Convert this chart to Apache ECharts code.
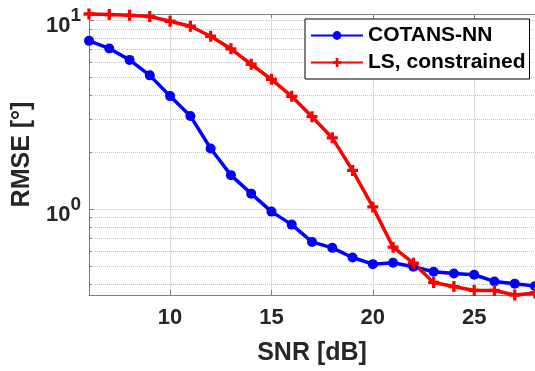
<!DOCTYPE html>
<html>
<head>
<meta charset="utf-8">
<script src="https://cdn.jsdelivr.net/npm/echarts@6/dist/echarts.min.js"></script>
<style>
  html, body { margin: 0; padding: 0; background: #fff; }
  #chart { width: 535px; height: 371px; }
</style>
</head>
<body>
<div id="chart"></div>
<script>
const FONT = '"Liberation Sans", Arial, Helvetica, sans-serif';

// SNR values in dB
const snr = [6, 7, 8, 9, 10, 11, 12, 13, 14, 15, 16, 17, 18, 19, 20, 21, 22, 23, 24, 25, 26, 27, 28];
// RMSE in degrees
const cotansNN = [7.77, 7.08, 6.16, 5.10, 3.96, 3.11, 2.09, 1.51, 1.205, 0.968, 0.826, 0.669, 0.622,
  0.553, 0.510, 0.519, 0.494, 0.465, 0.455, 0.448, 0.413, 0.402, 0.390];
const lsConstrained = [10.78, 10.70, 10.61, 10.45, 9.87, 9.29, 8.22, 7.05, 5.84, 4.86, 3.95, 3.08, 2.38,
  1.60, 1.025, 0.627, 0.516, 0.408, 0.388, 0.370, 0.370, 0.350, 0.359];

const xMin = 6, xMax = 28;
const yMin = 0.35, yMax = 10.78;
const minorY = [0.4, 0.5, 0.6, 0.7, 0.8, 0.9, 2, 3, 4, 5, 6, 7, 8, 9];

const axisColor = '#7f7f7f';
const textColor = '#262626';

const pairs = (ys) => snr.map((x, i) => [x, ys[i]]);

// minor grid (dotted) + small minor ticks on the left edge
const minorLines = minorY.map(v => ({ yAxis: v }));
const minorTicks = minorY.map(v => [
  { coord: [xMin, v], lineStyle: { type: 'solid', color: axisColor, width: 1 } },
  { coord: [xMin + 0.15, v] }
]);

const chart = echarts.init(document.getElementById('chart'));
chart.setOption({
  animation: false,
  backgroundColor: '#fff',
  grid: { left: 89, top: 14, width: 449, height: 282 },
  legend: {
    left: 305, top: 19, orient: 'vertical',
    padding: [6, 4, 6, 5], itemGap: 6, itemWidth: 52, itemHeight: 11,
    borderColor: '#000', borderWidth: 1, backgroundColor: '#fff', borderRadius: 0,
    textStyle: { fontSize: 21, fontWeight: 'bold', color: '#000', fontFamily: FONT, lineHeight: 21 },
    data: ['COTANS-NN', 'LS, constrained']
  },
  xAxis: [{
    type: 'value', min: xMin, max: xMax,
    name: 'SNR [dB]', nameLocation: 'middle', nameGap: 46,
    nameTextStyle: { fontSize: 25, fontWeight: 'bold', color: textColor, fontFamily: FONT },
    axisLine: { show: true, lineStyle: { color: axisColor, width: 1 } },
    axisTick: { show: true, inside: true, length: 5, lineStyle: { color: axisColor } },
    axisLabel: {
      margin: 12, fontSize: 22, fontWeight: 'bold', color: textColor, fontFamily: FONT,
      showMinLabel: false, showMaxLabel: false,
      formatter: v => (v % 5 === 0 ? String(v) : '')
    },
    splitLine: { show: true, lineStyle: { color: '#dcdcdc', width: 1 } }
  }, {
    type: 'value', min: xMin, max: xMax, position: 'top',
    axisLine: { show: true, lineStyle: { color: axisColor, width: 1 } },
    axisTick: { show: true, inside: true, length: 4, lineStyle: { color: axisColor } },
    axisLabel: { show: false },
    splitLine: { show: false }
  }],
  yAxis: {
    type: 'log', logBase: 10, min: yMin, max: yMax,
    name: 'RMSE [°]', nameLocation: 'middle', nameGap: 45,
    nameTextStyle: { fontSize: 25, fontWeight: 'bold', color: textColor, fontFamily: FONT },
    axisLine: { show: true, lineStyle: { color: axisColor, width: 1 } },
    axisTick: { show: true, inside: true, length: 5, lineStyle: { color: axisColor } },
    axisLabel: {
      margin: 8, showMinLabel: false, showMaxLabel: false,
      padding: [12, 0, 0, 0],
      formatter: v => {
        const e = Math.log10(v);
        const r = Math.round(e);
        if (Math.abs(e - r) > 1e-6) return '';
        return '{b|10}{s|' + r + '}';
      },
      rich: {
        b: { fontSize: 22, fontWeight: 'bold', color: textColor, fontFamily: FONT, lineHeight: 22, verticalAlign: 'bottom' },
        s: { fontSize: 19, fontWeight: 'bold', color: textColor, fontFamily: FONT, lineHeight: 19, verticalAlign: 'bottom', padding: [0, 0, 12, 0] }
      }
    },
    splitLine: { show: true, lineStyle: { color: '#dcdcdc', width: 1 } }
  },
  series: [{
    name: 'COTANS-NN', type: 'line', clip: false,
    data: pairs(cotansNN),
    symbol: 'circle', symbolSize: 10, showAllSymbol: true,
    lineStyle: { color: '#0000ff', width: 3.5 },
    itemStyle: { color: '#0000ff' },
    markLine: {
      silent: true, z: 1, symbol: ['none', 'none'],
      label: { show: false },
      lineStyle: { color: '#c4c4c4', type: 'dotted', width: 1 },
      emphasis: { disabled: true },
      data: minorLines.concat(minorTicks)
    }
  }, {
    name: 'LS, constrained', type: 'line', clip: false,
    data: pairs(lsConstrained),
    symbol: 'path://M3.5,0H6.5V3.5H10V6.5H6.5V10H3.5V6.5H0V3.5H3.5Z', symbolSize: 11, showAllSymbol: true,
    lineStyle: { color: '#ff0000', width: 3.5 },
    itemStyle: { color: '#ff0000' }
  }]
});
</script>
</body>
</html>
